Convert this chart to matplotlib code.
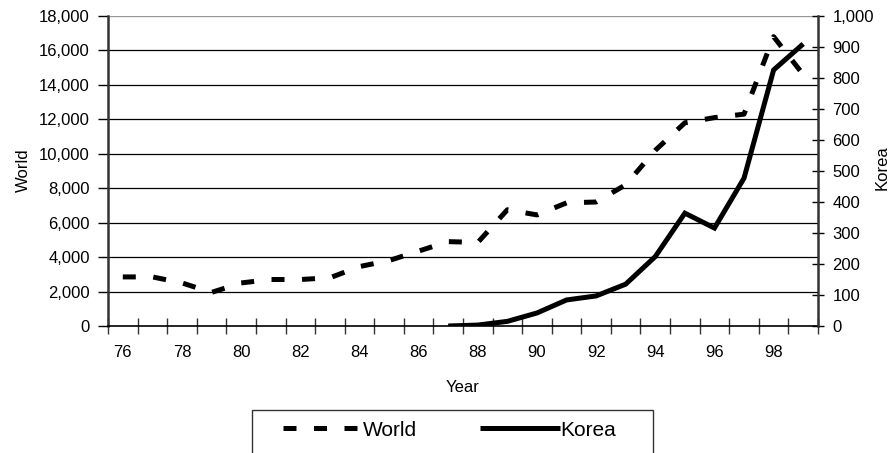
import matplotlib
matplotlib.use("Agg")
import matplotlib.pyplot as plt
from matplotlib.ticker import FuncFormatter, FixedLocator
from matplotlib.lines import Line2D
from matplotlib.patches import Rectangle

plt.rcParams['font.family'] = ['Liberation Sans', 'DejaVu Sans']

years = ["76", "77", "78", "79", "80", "81", "82", "83", "84", "85", "86", "87",
         "88", "89", "90", "91", "92", "93", "94", "95", "96", "97", "98", "99"]
world = [2850, 2850, 2500, 1950, 2500, 2700, 2700, 2800, 3450, 3800, 4350, 4900,
         4850, 6750, 6450, 7150, 7200, 8200, 10200, 11800, 12100, 12300, 16800, 14600]
korea_years = ["87", "88", "89", "90", "91", "92", "93", "94", "95", "96", "97", "98", "99"]
korea = [0, 3, 15, 42, 84, 97, 135, 224, 364, 316, 477, 826, 910]

fs = 12
lfs = 15
lw = 3.6
dash = (2.6, 3.5)

fig = plt.figure(figsize=(8.91, 4.53), dpi=100)
ax = fig.add_axes([108/891, 1-326/453, 710/891, 310/453])
ax2 = ax.twinx()

xw = list(range(len(years)))
xk = [years.index(y) for y in korea_years]

ax.plot(xw, world, color='black', lw=lw, dashes=dash, dash_capstyle='butt',
        solid_capstyle='butt', zorder=3)
ax2.plot(xk, korea, color='black', lw=lw, solid_capstyle='butt', solid_joinstyle='miter', zorder=3)

ax.set_xlim(-0.5, len(years) - 0.5)
ax.set_ylim(0, 18000)
ax2.set_ylim(0, 1000)

ax.set_yticks(range(0, 18001, 2000))
ax.yaxis.set_major_formatter(FuncFormatter(lambda v, p: f"{int(v):,}"))
ax2.set_yticks(range(0, 1001, 100))
ax2.yaxis.set_major_formatter(FuncFormatter(lambda v, p: f"{int(v):,}"))

ax.set_xticks(xw[::2])
ax.set_xticklabels(years[::2])
ax.xaxis.set_minor_locator(FixedLocator([i - 0.5 for i in range(len(years) + 1)]))
ax.tick_params(axis='x', which='major', length=0, pad=14, labelsize=fs)
ax.tick_params(axis='x', which='minor', direction='inout', length=12, width=1, color='#333333')
ax.tick_params(axis='y', which='major', direction='out', length=7, width=1, pad=6, labelsize=fs)
ax2.tick_params(axis='y', which='major', direction='inout', length=9, width=1, pad=6, labelsize=fs)

for g in range(2000, 18001, 2000):
    ax.axhline(g, color='#999999' if g == 18000 else 'black', lw=1.0 if g == 18000 else 0.9, zorder=1)

for s in ['top']:
    ax.spines[s].set_visible(False)
    ax2.spines[s].set_visible(False)
ax.spines['left'].set_linewidth(1.8)
ax.spines['left'].set_color('#333333')
ax2.spines['right'].set_linewidth(1.8)
ax2.spines['right'].set_color('#333333')
ax.spines['bottom'].set_linewidth(1.2)
ax2.spines['left'].set_visible(False)
ax2.spines['bottom'].set_visible(False)
ax.spines['right'].set_visible(False)

fig.text(23/891, 1-170/453, "World", rotation=90, ha='center', va='center', fontsize=fs)
fig.text(882/891, 1-168/453, "Korea", rotation=90, ha='center', va='center', fontsize=fs)
ax.set_xlabel("Year", fontsize=fs, labelpad=14)

handles = [Line2D([], [], color='black', lw=lw, dashes=dash, dash_capstyle='butt'),
           Line2D([], [], color='black', lw=lw, solid_capstyle='butt')]
leg = fig.legend(handles, ["World", "Korea"], loc='center left',
                 bbox_to_anchor=(283/891, 1-430/453), ncol=2, fontsize=lfs,
                 frameon=False, handlelength=3.85, handletextpad=0.0,
                 columnspacing=3.0, borderpad=0, borderaxespad=0)

fig.patches.append(Rectangle((252/891, -0.02), (653-252)/891, 0.02 + (453-410)/453,
                             transform=fig.transFigure, fill=False,
                             edgecolor='#333333', lw=1.0))

fig.savefig("out.png", dpi=100)
